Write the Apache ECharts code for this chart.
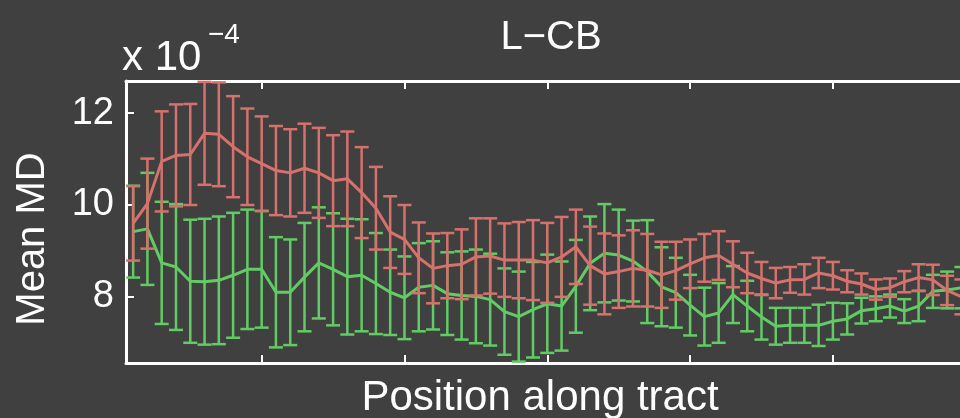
<!DOCTYPE html>
<html>
<head>
<meta charset="utf-8">
<script src="https://cdn.jsdelivr.net/npm/echarts@6/dist/echarts.min.js"></script>
<style>
  html, body { margin: 0; padding: 0; background: #404040; overflow: hidden; }
  #chart { width: 960px; height: 418px; }
</style>
</head>
<body>
<div id="chart"></div>
<script>
// Node positions along the tract
const positions = [1, 2, 3, 4, 5, 6, 7, 8, 9, 10, 11, 12, 13, 14, 15, 16, 17, 18, 19, 20,
  21, 22, 23, 24, 25, 26, 27, 28, 29, 30, 31, 32, 33, 34, 35, 36, 37, 38, 39, 40,
  41, 42, 43, 44, 45, 46, 47, 48, 49, 50, 51, 52, 53, 54, 55, 56, 57, 58, 59];

// Mean diffusivity (x 1e-4) and its error half-width, group shown in red
const redMean = [9.60, 10.03, 10.95, 11.08, 11.10, 11.56, 11.54, 11.27, 11.05, 10.90,
  10.75, 10.70, 10.80, 10.70, 10.53, 10.57, 10.27, 9.93, 9.41, 9.25,
  8.85, 8.62, 8.68, 8.71, 8.87, 8.89, 8.80, 8.80, 8.80, 8.74,
  8.87, 9.09, 8.68, 8.50, 8.55, 8.62, 8.58, 8.48, 8.57, 8.72,
  8.85, 8.90, 8.71, 8.52, 8.40, 8.30, 8.37, 8.38, 8.52, 8.46,
  8.34, 8.28, 8.16, 8.20, 8.33, 8.42, 8.37, 8.14, 8.00];
const redErr = [0.81, 0.98, 1.09, 1.11, 1.10, 1.12, 1.13, 1.10, 1.05, 1.03,
  0.97, 0.95, 0.97, 0.98, 0.99, 1.03, 0.99, 0.90, 0.78, 0.75,
  0.77, 0.76, 0.71, 0.76, 0.84, 0.82, 0.80, 0.83, 0.87, 0.87,
  0.87, 0.81, 0.85, 0.88, 0.79, 0.83, 0.79, 0.72, 0.63, 0.53,
  0.52, 0.53, 0.50, 0.44, 0.36, 0.33, 0.28, 0.33, 0.33, 0.30,
  0.24, 0.23, 0.22, 0.20, 0.23, 0.29, 0.33, 0.32, 0.38];

// Mean diffusivity (x 1e-4) and its error half-width, group shown in green
const greenMean = [9.42, 9.48, 8.74, 8.65, 8.34, 8.33, 8.36, 8.47, 8.60, 8.60,
  8.10, 8.10, 8.43, 8.74, 8.60, 8.44, 8.47, 8.29, 8.10, 7.98,
  8.21, 8.25, 8.07, 8.03, 8.01, 7.94, 7.68, 7.57, 7.72, 7.85,
  7.80, 8.23, 8.73, 8.95, 8.91, 8.78, 8.55, 8.22, 8.09, 7.82,
  7.57, 7.65, 8.05, 7.80, 7.56, 7.36, 7.38, 7.38, 7.38, 7.47,
  7.52, 7.70, 7.74, 7.80, 7.69, 7.80, 8.12, 8.15, 8.20];
const greenErr = [1.00, 1.22, 1.33, 1.37, 1.34, 1.37, 1.39, 1.36, 1.30, 1.27,
  1.20, 1.15, 1.18, 1.21, 1.22, 1.26, 1.22, 1.10, 0.93, 0.90,
  0.96, 0.96, 0.90, 0.96, 1.02, 1.00, 0.94, 0.98, 1.04, 1.07,
  0.97, 1.01, 1.02, 1.07, 0.99, 0.88, 1.12, 0.86, 0.76, 0.66,
  0.63, 0.65, 0.62, 0.55, 0.49, 0.40, 0.38, 0.38, 0.45, 0.40,
  0.34, 0.28, 0.27, 0.25, 0.26, 0.33, 0.36, 0.40, 0.45];

const yTicks = [8, 10, 12];
const xTicks = [10, 20, 30, 40, 50];

const RED = '#d6716c';
const GREEN = '#62cc64';
const WHITE = '#ffffff';
const FONT = '"Liberation Sans", Arial, Helvetica, sans-serif';

function lineData(mean) {
  return positions.map((p, i) => [p, mean[i]]);
}
function barData(mean, err) {
  return positions.map((p, i) => [p, mean[i] - err[i], mean[i] + err[i]]);
}
function errorBars(color) {
  return function (params, api) {
    const x = api.value(0);
    const lo = api.coord([x, api.value(1)]);
    const hi = api.coord([x, api.value(2)]);
    const hw = 7;
    const style = { stroke: color, lineWidth: 2.5, fill: null };
    return {
      type: 'group',
      children: [
        { type: 'line', shape: { x1: hi[0], y1: hi[1], x2: lo[0], y2: lo[1] }, style },
        { type: 'line', shape: { x1: hi[0] - hw, y1: hi[1], x2: hi[0] + hw, y2: hi[1] }, style },
        { type: 'line', shape: { x1: lo[0] - hw, y1: lo[1], x2: lo[0] + hw, y2: lo[1] }, style }
      ]
    };
  };
}

const axisLine = { show: true, lineStyle: { color: WHITE, width: 3 } };
const tick = (vals) => ({ show: true, inside: true, length: 8, customValues: vals,
  lineStyle: { color: WHITE, width: 2 } });

// The plotted span runs past the right edge of the figure
const X_MIN = 0.5;
const X_MAX = 58.9;

const chart = echarts.init(document.getElementById('chart'), null, { renderer: 'canvas' });
chart.setOption({
  backgroundColor: '#404040',
  animation: false,
  grid: { left: 126, top: 81, bottom: 55, right: 0, containLabel: false },
  xAxis: [
    { type: 'value', position: 'bottom', min: X_MIN, max: X_MAX,
      axisLine, axisTick: tick(xTicks), axisLabel: { show: false }, splitLine: { show: false } },
    { type: 'value', position: 'top', min: X_MIN, max: X_MAX,
      axisLine, axisTick: tick(xTicks), axisLabel: { show: false }, splitLine: { show: false } }
  ],
  yAxis: [
    { type: 'value', min: 6.56, max: 12.7,
      axisLine, axisTick: tick(yTicks),
      axisLabel: { show: true, customValues: yTicks, color: WHITE, fontSize: 38,
        fontFamily: FONT, margin: 12 },
      splitLine: { show: false } }
  ],
  graphic: [
    { type: 'text', x: 551, y: 38,
      style: { text: 'L\u2212CB', fill: WHITE, font: '40px ' + FONT, align: 'center', verticalAlign: 'middle' } },
    { type: 'text', x: 122, y: 58,
      style: { text: 'x 10', fill: WHITE, font: '42px ' + FONT, align: 'left', verticalAlign: 'middle' } },
    { type: 'text', x: 208, y: 35,
      style: { text: '\u22124', fill: WHITE, font: '28px ' + FONT, align: 'left', verticalAlign: 'middle' } },
    { type: 'text', x: 33, y: 239, rotation: Math.PI / 2,
      style: { text: 'Mean MD', fill: WHITE, font: '40px ' + FONT, align: 'center', verticalAlign: 'middle' } },
    { type: 'text', x: 540, y: 398,
      style: { text: 'Position along tract', fill: WHITE, font: '42px ' + FONT, align: 'center', verticalAlign: 'middle' } }
  ],
  series: [
    { type: 'custom', name: 'green-err', renderItem: errorBars(GREEN), data: barData(greenMean, greenErr),
      encode: { x: 0, y: [1, 2] }, z: 2 },
    { type: 'line', name: 'green', data: lineData(greenMean), showSymbol: false,
      lineStyle: { color: GREEN, width: 3 }, z: 3 },
    { type: 'custom', name: 'red-err', renderItem: errorBars(RED), data: barData(redMean, redErr),
      encode: { x: 0, y: [1, 2] }, z: 4 },
    { type: 'line', name: 'red', data: lineData(redMean), showSymbol: false,
      lineStyle: { color: RED, width: 3 }, z: 5 }
  ]
});
</script>
</body>
</html>
